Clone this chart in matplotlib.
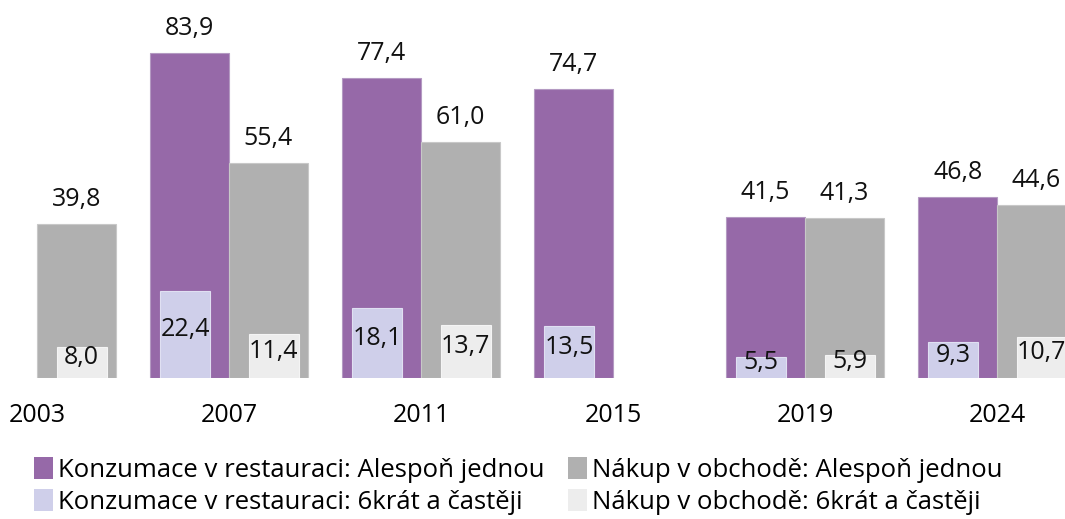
import numpy as np
import matplotlib
matplotlib.use("Agg")
import matplotlib.pyplot as plt
from matplotlib.patches import Patch

years = ["2003", "2007", "2011", "2015", "2019", "2024"]
rest_once = [np.nan, 83.9, 77.4, 74.7, 41.5, 46.8]
shop_once = [39.8, 55.4, 61.0, np.nan, 41.3, 44.6]
rest_6 = [np.nan, 22.4, 18.1, 13.5, 5.5, 9.3]
shop_6 = [8.0, 11.4, 13.7, np.nan, 5.9, 10.7]

names = ["Konzumace v restauraci: Alespoň jednou",
         "Konzumace v restauraci: 6krát a častěji",
         "Nákup v obchodě: Alespoň jednou",
         "Nákup v obchodě: 6krát a častěji"]

c_rest = "#9669a8"
c_rest6 = "#cfcfea"
c_shop = "#b0b0b0"
c_shop6 = "#ededed"

plt.rcParams["font.family"] = ["Open Sans", "DejaVu Sans"]
FS = 18

fig = plt.figure(figsize=(10.65, 5.19), dpi=100)
ax = fig.add_axes([0, 0.2717, 1, 0.7283])

x = np.arange(len(years))
wide = 0.41
narrow = 0.26

def fmt(v):
    return ("%.1f" % v).replace(".", ",")

b1 = ax.bar(x - 0.205, rest_once, wide, color=c_rest, edgecolor="#b49ac2", linewidth=0.8, zorder=2)
b2 = ax.bar(x + 0.205, shop_once, wide, color=c_shop, edgecolor="#c8c8c8", linewidth=0.8, zorder=2)
b3 = ax.bar(x - 0.228, rest_6, narrow, color=c_rest6, edgecolor="#e0e0f2", linewidth=0.8, zorder=3)
b4 = ax.bar(x + 0.232, shop_6, narrow, color=c_shop6, edgecolor="#f4f4f4", linewidth=0.8, zorder=3)

for bars, vals in [(b1, rest_once), (b2, shop_once)]:
    for r, v in zip(bars, vals):
        if np.isnan(v):
            continue
        ax.annotate(fmt(v), (r.get_x() + r.get_width() / 2, v),
                    xytext=(0, 13), textcoords="offset points",
                    ha="center", va="baseline", fontsize=FS, color="#111111")

for bars, vals in [(b3, rest_6), (b4, shop_6)]:
    for r, v in zip(bars, vals):
        if np.isnan(v):
            continue
        ax.text(r.get_x() + r.get_width() / 2, v / 2 + 1.2, fmt(v),
                ha="center", va="center", fontsize=FS, color="#111111",
                zorder=4, clip_on=True)

ax.set_xlim(-0.193, 5.354)
ax.set_ylim(0, 97.6)
ax.set_xticks(x)
ax.set_xticklabels(years, fontsize=FS)
ax.tick_params(axis="x", length=0, pad=18)
ax.set_yticks([])
for s in ax.spines.values():
    s.set_visible(False)

handles = [Patch(facecolor=c_rest), Patch(facecolor=c_rest6),
           Patch(facecolor=c_shop), Patch(facecolor=c_shop6)]
fig.legend(handles, [names[0], names[1], names[2], names[3]], ncol=2,
           loc="lower left", bbox_to_anchor=(0.022, -0.012), frameon=False,
           fontsize=18.5, handlelength=0.75, handleheight=0.9, handletextpad=0.2,
           columnspacing=0.9, labelspacing=0.25, borderaxespad=0)

fig.savefig("out.png", dpi=100)
